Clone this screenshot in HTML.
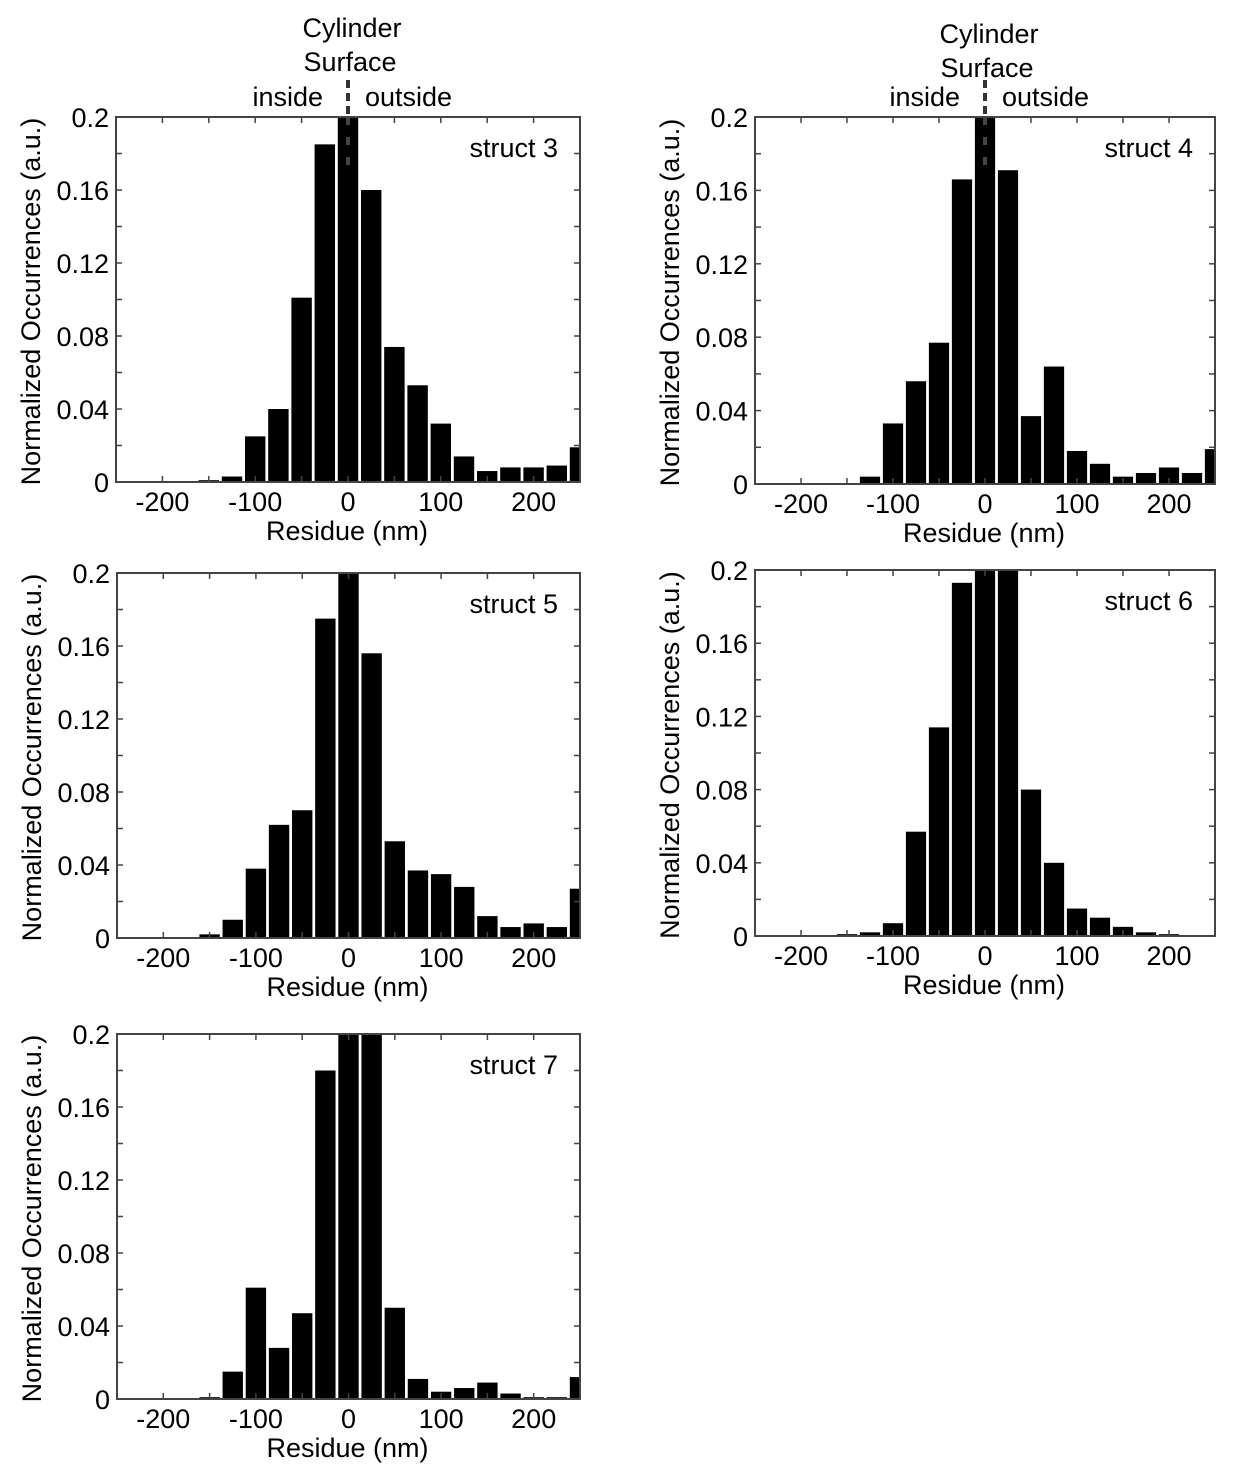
<!DOCTYPE html>
<html><head><meta charset="utf-8"><style>
body{margin:0;background:#fff}
svg text{font-family:"Liberation Sans",Arial,sans-serif;fill:#000}
</style></head><body>
<svg id="fig" width="1238" height="1468" xmlns="http://www.w3.org/2000/svg"></svg>
<script>
const centers=[-250,-225,-200,-175,-150,-125,-100,-75,-50,-25,0,25,50,75,100,125,150,175,200,225,250];
const struct3=[0,0,0,0.0005,0.001,0.003,0.025,0.04,0.101,0.185,0.21,0.16,0.074,0.053,0.032,0.014,0.006,0.008,0.008,0.009,0.019];
const struct4=[0,0,0,0,0,0.004,0.033,0.056,0.077,0.166,0.21,0.171,0.037,0.064,0.018,0.011,0.004,0.006,0.009,0.006,0.019];
const struct5=[0,0,0,0,0.002,0.01,0.038,0.062,0.07,0.175,0.21,0.156,0.053,0.037,0.035,0.028,0.012,0.006,0.008,0.006,0.027];
const struct6=[0,0,0,0.0005,0.001,0.002,0.007,0.057,0.114,0.193,0.21,0.21,0.08,0.04,0.015,0.01,0.005,0.002,0.001,0.0005,0];
const struct7=[0,0,0,0,0.001,0.015,0.061,0.028,0.047,0.18,0.21,0.21,0.05,0.011,0.004,0.006,0.009,0.003,0.001,0.001,0.012];
const xTicks=[-200,-100,0,100,200];
const yTicks=[0,0.04,0.08,0.12,0.16,0.2];
const yTickLabels=["0","0.04","0.08","0.12","0.16","0.2"];
const NS="http://www.w3.org/2000/svg";
const svg=document.getElementById('fig');
const FS=27;
function el(t,a,p){const e=document.createElementNS(NS,t);for(const k in a)e.setAttribute(k,a[k]);(p||svg).appendChild(e);return e;}
const panels=[
 {name:'struct 3',data:struct3,L:116,R:580,T:117,B:482,ann:[28,62,97]},
 {name:'struct 4',data:struct4,L:755,R:1215,T:117,B:484,ann:[34,68,97]},
 {name:'struct 5',data:struct5,L:117,R:580,T:573,B:938},
 {name:'struct 6',data:struct6,L:755,R:1215,T:570,B:936},
 {name:'struct 7',data:struct7,L:117,R:580,T:1034,B:1399}
];
panels.forEach((p,i)=>{
 const g=el('g',{});
 
 
 const xs=v=>p.L+(v+250)/500*(p.R-p.L);
 const ys=v=>p.B-Math.min(v,0.2)/0.2*(p.B-p.T);
 const clip=el('clipPath',{id:'c'+i},g);el('rect',{x:p.L,y:p.T,width:p.R-p.L,height:p.B-p.T},clip);
 const bars=el('g',{'clip-path':'url(#c'+i+')'},g);
 p.data.forEach((v,j)=>{
  if(v<=0)return;
  const x0=xs(centers[j]-11),x1=xs(centers[j]+11);
  const r=el('rect',{x:x0,y:ys(v),width:x1-x0,height:p.B-ys(v),fill:'#000'},bars);
  
  
 });
 el('rect',{x:p.L,y:p.T,width:p.R-p.L,height:p.B-p.T,fill:'none',stroke:'#444','stroke-width':2},g);
 for(let v=-250;v<=250;v+=50){const x=xs(v);
  el('line',{x1:x,x2:x,y1:p.B,y2:p.B-6,stroke:'#444','stroke-width':1.5},g);
  el('line',{x1:x,x2:x,y1:p.T,y2:p.T+6,stroke:'#444','stroke-width':1.5},g);}
 for(let v=0;v<=0.2001;v+=0.02){const y=ys(v);
  el('line',{x1:p.L,x2:p.L+6,y1:y,y2:y,stroke:'#444','stroke-width':1.5},g);
  el('line',{x1:p.R,x2:p.R-6,y1:y,y2:y,stroke:'#444','stroke-width':1.5},g);}
 xTicks.forEach(v=>{const t=el('text',{x:xs(v),y:p.B+29,'font-size':FS,'text-anchor':'middle'},g);t.textContent=v;
  });
 yTicks.forEach((v,k)=>{const t=el('text',{x:p.L-7,y:ys(v)+10,'font-size':FS,'text-anchor':'end'},g);t.textContent=yTickLabels[k];
  });
 const xt=el('text',{x:(p.L+p.R)/2-1,y:p.B+58,'font-size':FS,'text-anchor':'middle'},g);xt.textContent='Residue (nm)';
 
 const cy=(p.T+p.B)/2+2, cx=p.L-76;
 const yt=el('text',{x:cx,y:cy,'font-size':FS,'text-anchor':'middle',transform:`rotate(-90 ${cx} ${cy})`},g);yt.textContent='Normalized Occurrences (a.u.)';
 
 const lb=el('text',{x:p.R-22,y:p.T+40,'font-size':FS,'text-anchor':'end'},g);lb.textContent=p.name;
 
 if(p.ann){const x0=xs(0);
  const a1=el('text',{x:x0+4,y:p.ann[0]+9,'font-size':FS,'text-anchor':'middle'},g);a1.textContent='Cylinder';
  
  const a2=el('text',{x:x0+2,y:p.ann[1]+9,'font-size':FS,'text-anchor':'middle'},g);a2.textContent='Surface';
  
  const a3=el('text',{x:x0-25,y:p.ann[2]+9,'font-size':FS,'text-anchor':'end'},g);a3.textContent='inside';
  
  const a4=el('text',{x:x0+17,y:p.ann[2]+9,'font-size':FS,'text-anchor':'start'},g);a4.textContent='outside';
  
  const dl=el('line',{x1:x0,x2:x0,y1:p.T-37,y2:p.T,stroke:'#333','stroke-width':4,'stroke-dasharray':'8,5'},g);
  
  el('line',{x1:x0,x2:x0,y1:p.T,y2:p.T+60,stroke:'#444','stroke-width':4,'stroke-dasharray':'8,12'},g);
 }
});
</script>
</body></html>
